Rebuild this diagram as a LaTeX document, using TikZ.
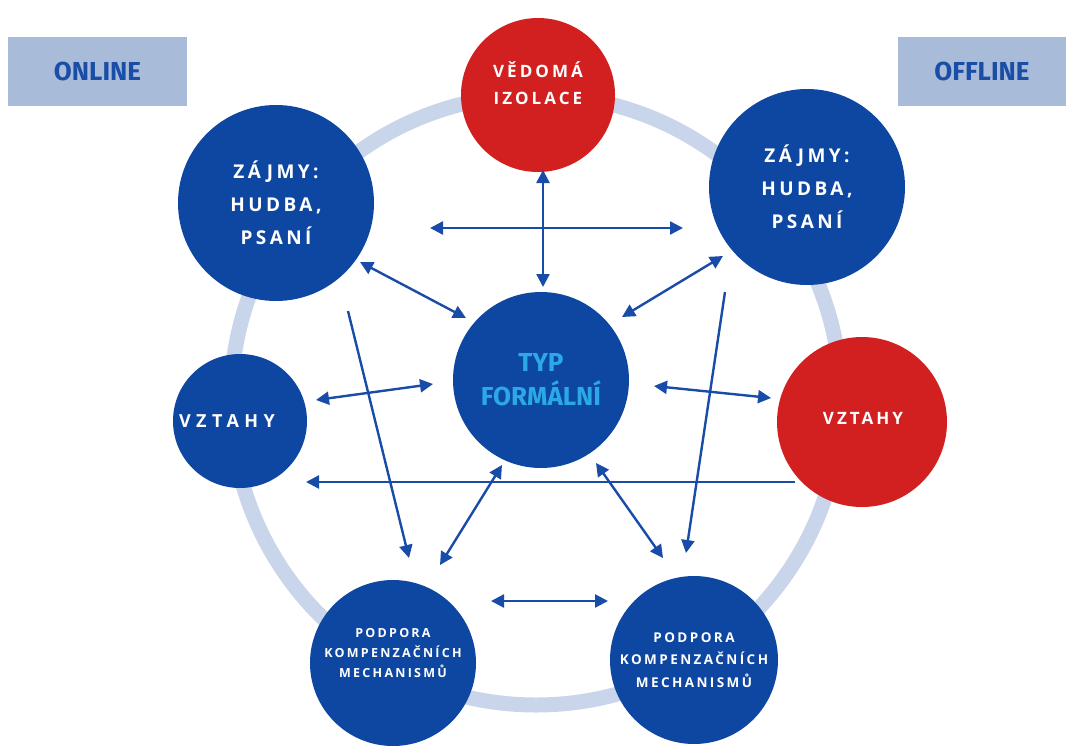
\documentclass[tikz,border=0pt]{standalone}
\usepackage{fontspec}
\setmainfont{Fira Sans}
\newfontfamily\lblfont{Open Sans}[LetterSpace=18]
\newfontfamily\widefont{Open Sans}[LetterSpace=30]
\usetikzlibrary{arrows.meta, positioning}

\definecolor{darkblue}{RGB}{14,71,161}
\definecolor{lineblue}{RGB}{24,76,168}
\definecolor{darkred}{RGB}{210,32,32}
\definecolor{ringblue}{RGB}{200,213,234}
\definecolor{boxblue}{RGB}{168,187,217}
\definecolor{textblue}{RGB}{26,78,166}
\definecolor{cyantext}{RGB}{42,169,230}

\begin{document}
\begin{tikzpicture}[x=1pt, y=-1pt, >={Triangle[length=13pt,width=13pt]},
    bubble/.style={circle, fill=darkblue, text=white, align=center, inner sep=0pt},
    redbubble/.style={bubble, fill=darkred},
    tag/.style={fill=boxblue, text=textblue, minimum height=69pt, inner sep=0pt, font=\fontsize{26}{30}\selectfont\bfseries},
    link/.style={draw=lineblue, line width=2.4pt}]
    \useasboundingbox (0,0) rectangle (1066,745);

    % ring behind everything
    \draw[ringblue, line width=15pt] (536,400) circle (305);

    % side labels
    \node[tag, minimum width=179pt] (online) at (97.5,71.5) {ONLINE};
    \node[tag, minimum width=168pt] (offline) at (982,71.5) {OFFLINE};

    % circles
    \node[redbubble, minimum size=154pt, font=\lblfont\fontsize{17}{27}\selectfont\bfseries] (vedoma) at (538,95) {VĚDOMÁ\\IZOLACE\\[-3pt]};
    \node[bubble, minimum size=196pt, font=\lblfont\fontsize{19}{33}\selectfont\bfseries] (zajmyL) at (276,203) {ZÁJMY:\\HUDBA,\\PSANÍ};
    \node[bubble, minimum size=196pt, font=\lblfont\fontsize{19}{33}\selectfont\bfseries] (zajmyR) at (807,187) {ZÁJMY:\\HUDBA,\\PSANÍ};
    \node[bubble, minimum size=176pt, text=cyantext, font=\fontsize{26}{34}\selectfont\bfseries] (typ) at (541,380) {TYP\\FORMÁLNÍ};
    \node[bubble, minimum size=134pt] (vztahyL) at (240,421) {};
    \node[text=white, font=\widefont\fontsize{18}{20}\selectfont\bfseries] (vztahyLtext) at (227,421) {VZTAHY};
    \node[redbubble, minimum size=170pt] (vztahyR) at (862,422) {};
    \node[text=white, font=\lblfont\fontsize{17}{20}\selectfont\bfseries] (vztahyRtext) at (863,418) {VZTAHY};
    \node[bubble, minimum size=166pt, font=\lblfont\fontsize{12.5}{20}\selectfont\bfseries] (podporaL) at (393,663) {PODPORA\\KOMPENZAČNÍCH\\MECHANISMŮ\\[0pt]};
    \node[bubble, minimum size=168pt, font=\lblfont\fontsize{13.5}{22.5}\selectfont\bfseries] (podporaR) at (694,660) {PODPORA\\KOMPENZAČNÍCH\\MECHANISMŮ};

    % arrow ends
    \coordinate (hL) at (430,228);   \coordinate (hR) at (683,228);
    \coordinate (vT) at (543,170);   \coordinate (vB) at (543,287);
    \coordinate (zlA) at (360,262);  \coordinate (zlB) at (466,318);
    \coordinate (zrA) at (723,256);  \coordinate (zrB) at (622,317);
    \coordinate (vlA) at (316,400);  \coordinate (vlB) at (433,384);
    \coordinate (vrA) at (654,386);  \coordinate (vrB) at (771,398);
    \coordinate (longA) at (795,482); \coordinate (longB) at (306,482);
    \coordinate (dlA) at (348,311);  \coordinate (dlB) at (409,558);
    \coordinate (drA) at (725,292);  \coordinate (drB) at (686,553);
    \coordinate (plA) at (502,465);  \coordinate (plB) at (440,565);
    \coordinate (prA) at (596,463);  \coordinate (prB) at (663,558);
    \coordinate (bL) at (491,601);   \coordinate (bR) at (608,601);

    % connectors
    \draw[link, <->] (hL) -- (hR);
    \draw[link, <->] (vT) -- (vB);
    \draw[link, <->] (zlA) -- (zlB);
    \draw[link, <->] (zrA) -- (zrB);
    \draw[link, <->] (vlA) -- (vlB);
    \draw[link, <->] (vrA) -- (vrB);
    \draw[link, ->] (longA) -- (longB);
    \draw[link, ->] (dlA) -- (dlB);
    \draw[link, ->] (drA) -- (drB);
    \draw[link, <->] (plA) -- (plB);
    \draw[link, <->] (prA) -- (prB);
    \draw[link, <->] (bL) -- (bR);
\end{tikzpicture}
\end{document}
